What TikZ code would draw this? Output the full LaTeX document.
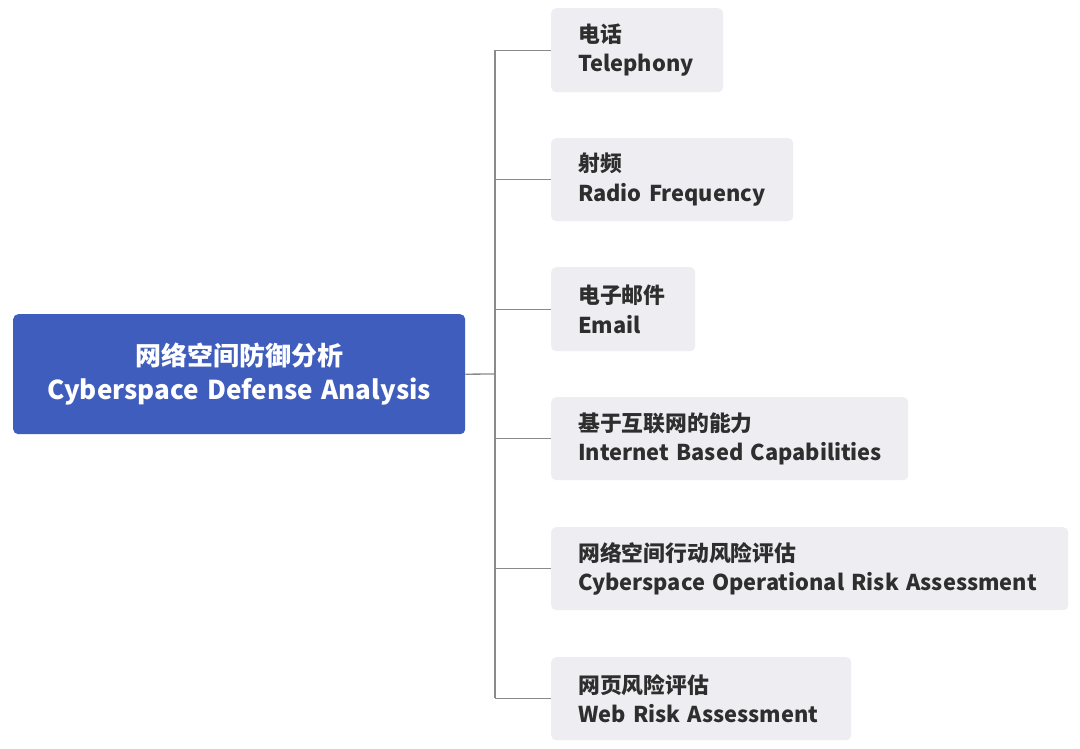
\documentclass[tikz,border=0pt]{standalone}
\usepackage{fontspec}
\setmainfont{Noto Sans CJK SC}
\newcommand{\ind}{\hspace*{27pt}}
\begin{document}
\begin{tikzpicture}[x=1pt,y=-1pt,
  rootbox/.style={fill=rootblue,rounded corners=5pt,anchor=north west,inner xsep=0pt,inner ysep=0pt,
    text=white,align=center,font=\bfseries\fontsize{26}{34}\selectfont},
  leafbox/.style={fill=leafgray,rounded corners=5pt,anchor=north west,inner xsep=0pt,inner ysep=0pt,
    text=leaftext,align=left,font=\bfseries\fontsize{21.8}{29.5}\selectfont},
  link/.style={draw=linegray,line width=1.3pt}]
\definecolor{rootblue}{HTML}{3F5DBC}
\definecolor{leafgray}{HTML}{EDEDF2}
\definecolor{leaftext}{HTML}{2E2E2E}
\definecolor{linegray}{HTML}{8A8A8A}
\useasboundingbox (0,0) rectangle (1080,749);
\fill[white] (0,0) rectangle (1080,749);

\node[rootbox,minimum width=452pt,minimum height=120pt,text width=452pt] (root) at (13,314)
  {网络空间防御分析\\Cyberspace Defense Analysis};

\node[leafbox,minimum height=84pt,text width=172pt] (a) at (551,8) {\ind 电话\\\ind Telephony};
\node[leafbox,minimum height=83pt,text width=242pt] (b) at (551,138) {\ind 射频\\\ind Radio Frequency};
\node[leafbox,minimum height=84pt,text width=144pt] (c) at (551,267) {\ind 电子邮件\\\ind Email};
\node[leafbox,minimum height=83pt,text width=357pt] (d) at (551,397) {\ind 基于互联网的能力\\\ind Internet Based Capabilities};
\node[leafbox,minimum height=83pt,text width=517pt] (e) at (551,527) {\ind 网络空间行动风险评估\\\ind Cyberspace Operational Risk Assessment};
\node[leafbox,minimum height=83pt,text width=300pt] (f) at (551,657) {\ind 网页风险评估\\\ind Web Risk Assessment};

\coordinate (hub) at (495,374);
\coordinate (top) at (495,50);
\coordinate (bot) at (495,698);
\draw[link] (root.east) -- (hub);
\draw[link] (top) -- (bot);
\foreach \n in {a,b,c,d,e,f}{
  \draw[link] (hub |- \n.west) -- (\n.west);
}
\end{tikzpicture}
\end{document}
